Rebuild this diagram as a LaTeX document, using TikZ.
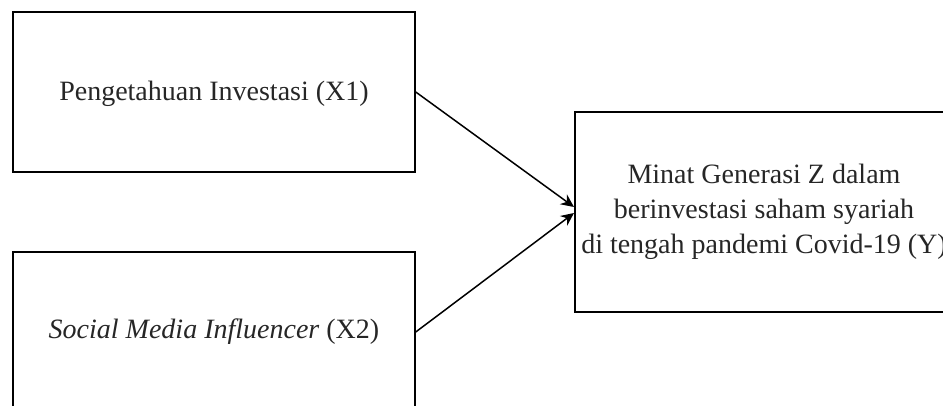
\documentclass[tikz,border=0pt]{standalone}
\usepackage{fontspec}
\setmainfont{Liberation Serif}
\usetikzlibrary{arrows.meta}
\begin{document}
\begin{tikzpicture}[x=1pt,y=-1pt,
  boxstyle/.style={draw=black,line width=1.5pt,rectangle,inner sep=0pt},
  lbl/.style={font=\fontsize{28}{35}\selectfont,align=center,text=black!85,inner sep=0pt},
  conn/.style={draw=black,line width=1.5pt,-{Stealth[length=13pt,width=12pt]}}]
\useasboundingbox (0,0) rectangle (943,406);
\clip (0,0) rectangle (943,406);
\node[boxstyle,minimum width=402pt,minimum height=160pt] (x1) at (214,92) {};
\node[lbl] (t1) at (214,94) {Pengetahuan Investasi (X1)};
\node[boxstyle,minimum width=402pt,minimum height=160pt] (x2) at (214,332) {};
\node[lbl] (t2) at (214,332) {\textit{Social Media Influencer} (X2)};
\node[boxstyle,minimum width=420pt,minimum height=200pt,anchor=west] (y) at (574,212) {};
\node[lbl] (ty) at (764,212) {Minat Generasi Z dalam\\berinvestasi saham syariah\\di tengah pandemi Covid-19 (Y)};
\draw[conn] (x1.east) -- ([yshift=5pt]y.west);
\draw[conn] (x2.east) -- ([yshift=-1pt]y.west);
\end{tikzpicture}
\end{document}
